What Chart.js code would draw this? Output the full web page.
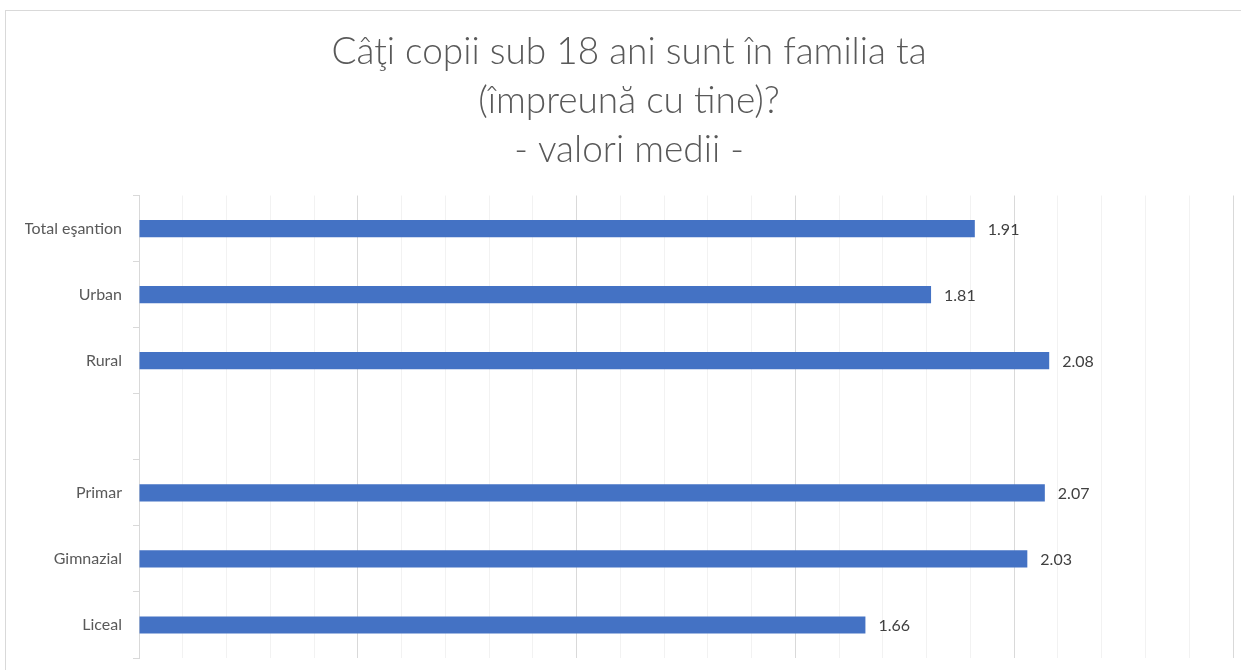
<!DOCTYPE html>
<html>
<head>
<meta charset="utf-8">
<script src="https://cdn.jsdelivr.net/npm/chart.js@4/dist/chart.umd.min.js"></script>
<style>
  body { margin: 0; background: #fff; overflow: hidden; }
  .frame { position: absolute; left: 5px; top: 10px; width: 1400px; height: 800px; border: 1px solid #d9d9d9; }
  .wrap { position: absolute; left: 0; top: 0; width: 1241px; height: 670px; }
</style>
</head>
<body>
<div class="frame"></div>
<div class="wrap"><canvas id="chart"></canvas></div>
<script>
// categories (empty slot keeps the gap between the two groups)
var categories = ["Total eşantion", "Urban", "Rural", "", "Primar", "Gimnazial", "Liceal"];
var values = [1.91, 1.81, 2.08, null, 2.07, 2.03, 1.66];
var titleLines = ["Câţi copii sub 18 ani sunt în familia ta", "(împreună cu tine)?", "- valori medii -"];

var valueLabels = {
  id: 'valueLabels',
  afterDatasetsDraw: function(chart) {
    var ctx = chart.ctx;
    var meta = chart.getDatasetMeta(0);
    ctx.save();
    ctx.font = '16px Lato';
    ctx.fillStyle = '#404040';
    ctx.textAlign = 'left';
    ctx.textBaseline = 'middle';
    meta.data.forEach(function(bar, i) {
      if (values[i] == null) return;
      ctx.fillText(values[i].toFixed(2), bar.x + 13, bar.y + 1);
    });
    ctx.restore();
  }
};

var ctx = document.getElementById('chart').getContext('2d');
var myChart = new Chart(ctx, {
  type: 'bar',
  data: {
    labels: categories,
    datasets: [{
      data: values,
      backgroundColor: '#4472c4',
      barPercentage: 0.26,
      categoryPercentage: 1,
    }]
  },
  options: {
    indexAxis: 'y',
    responsive: true,
    maintainAspectRatio: false,
    animation: false,
    layout: {
      padding: { left: 25, right: 8, top: 0, bottom: 12 }
    },
    plugins: {
      legend: { display: false },
      tooltip: { enabled: false },
      title: {
        display: true,
        text: titleLines,
        color: '#595959',
        font: { family: 'Lato', size: 37, weight: '300', lineHeight: 1.32 },
        padding: { top: 28, bottom: 21 },
      },
    },
    scales: {
      x: {
        min: 0,
        max: 2.5,
        ticks: { display: false, stepSize: 0.1 },
        border: { display: false },
        grid: {
          drawTicks: false,
          color: function(c) {
            return c.index % 5 === 0 ? '#d9d9d9' : '#f2f2f2';
          },
        },
        afterFit: function(scale) {
          scale.height = 0;
          scale.paddingLeft = 0;
          scale.paddingRight = 0;
        },
      },
      y: {
        ticks: {
          color: '#595959',
          font: { family: 'Lato', size: 16 },
          padding: 11,
        },
        border: { display: true, color: '#d9d9d9' },
        grid: {
          offset: true,
          drawOnChartArea: false,
          tickLength: 6,
          color: '#d9d9d9',
        },
        afterFit: function(scale) {
          scale.width = 114;
          scale.paddingTop = 0;
          scale.paddingBottom = 0;
        },
      }
    }
  },
  plugins: [valueLabels]
});
</script>
</body>
</html>
